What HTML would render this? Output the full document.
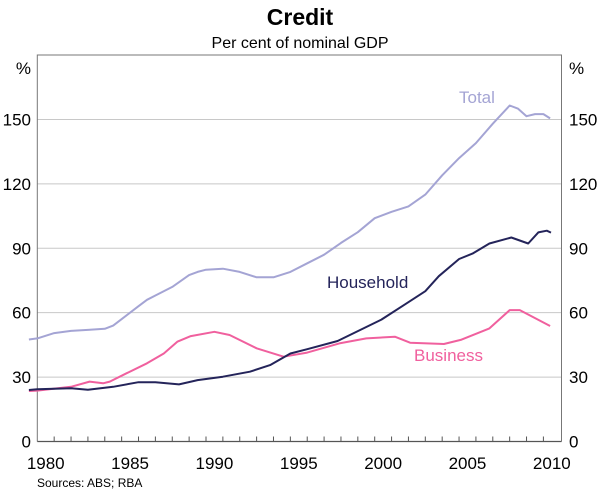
<!DOCTYPE html>
<html><head><meta charset="utf-8"><style>
body{margin:0;background:#fff;}
svg text{font-family:"Liberation Sans",sans-serif;}
</style></head><body>
<svg id="chart" width="600" height="495" viewBox="0 0 600 495" xmlns="http://www.w3.org/2000/svg">
<text x="300" y="25" text-anchor="middle" font-size="23" font-weight="bold">Credit</text>
<text x="300" y="48" text-anchor="middle" font-size="16">Per cent of nominal GDP</text>
<g id="grid"></g><g id="axes"></g><g id="series"></g>
<text x="459" y="103" font-size="17" fill="#a4a4d4">Total</text>
<text x="327" y="288" font-size="17" fill="#24245a">Household</text>
<text x="414" y="361" font-size="17" fill="#f0609e">Business</text>
<text x="37" y="487" font-size="12">Sources: ABS; RBA</text>
</svg>
<script>
const yTicks=[0,30,60,90,120,150];
const xLabels=[1980,1985,1990,1995,2000,2005,2010];
const totalYears=[1979.5,1980,1981,1982,1983,1984,1984.5,1985,1986,1986.5,1987,1988,1989,1989.5,1990,1991,1992,1993,1994,1995,1996,1997,1998,1999,2000,2001,2002,2003,2004,2005,2006,2007,2008,2008.5,2009,2009.5,2010,2010.4];
const totalVals=[47.5,48,50.5,51.5,52,52.5,54,57,63,66,68,72,77.5,79,80,80.5,79,76.5,76.5,79,83,87,92.5,97.5,104,107,109.5,115,124,132,139,148,156.5,155,151.5,152.5,152.5,150.5];
const houseYears=[1979.5,1980,1982,1983,1984.5,1986,1987,1988.4,1989.5,1991,1992.6,1993.8,1995,1996,1997.8,2000.4,2001.8,2003,2003.8,2005,2005.8,2006.8,2008.1,2009.1,2009.7,2010.2,2010.45];
const houseVals=[24,24.3,24.8,24.1,25.5,27.6,27.6,26.6,28.6,30.2,32.5,35.6,41,43,46.8,56.8,63.9,70,77,85,87.5,92.2,95,92.2,97.4,98.2,97.3];
const busYears=[1979.5,1980,1982,1983.1,1983.9,1984.3,1985.3,1986.5,1987.5,1988.3,1989.1,1990.5,1991.4,1993,1994.6,1996,1997.9,1999.5,2001.2,2002.1,2004.1,2005.1,2006.8,2008,2008.6,2010.4];
const busVals=[23.5,23.7,25.5,27.9,27.1,27.9,31.8,36.4,41,46.5,49.1,51.1,49.6,43.4,39.5,41.4,45.7,48,48.8,46,45.4,47.3,52.7,61.2,61.2,53.8];
const NS="http://www.w3.org/2000/svg";
const X0=37.3,PX=16.87,XR=561.5,YB=441.5,YT=55,PY=2.147;
function xs(t){return X0+(t-1980)*PX;}
function ys(v){return YB-v*PY;}
function mk(tag,attrs,parent){const e=document.createElementNS(NS,tag);for(const k in attrs)e.setAttribute(k,attrs[k]);parent.appendChild(e);return e;}
const grid=document.getElementById('grid'),axes=document.getElementById('axes'),ser=document.getElementById('series');
yTicks.forEach(v=>{
 if(v>0){const g=mk('line',{x1:X0,x2:XR,y1:ys(v),y2:ys(v),stroke:'#c8c8c8','stroke-width':1},grid);
 
 }
 const l=mk('text',{x:31,y:ys(v)+6,'text-anchor':'end','font-size':17},axes);l.textContent=v;
 
 
 const r=mk('text',{x:569,y:ys(v)+6,'font-size':17},axes);r.textContent=v;
 
 
});
[['y-left-unit',31,'end'],['y-right-unit',569,'start']].forEach(a=>{const t=mk('text',{x:a[1],y:74,'text-anchor':a[2],'font-size':17},axes);t.textContent='%';
 
 });
const fr=mk('path',{d:`M${X0},${YB}V${YT}H${XR}V${YB}`,fill:'none',stroke:'#777','stroke-width':1},axes);


const xa=mk('line',{x1:X0,x2:XR,y1:YB,y2:YB,stroke:'#555','stroke-width':1.2},axes);


for(let y=1981;y<=2010;y++){const t=mk('line',{x1:xs(y),x2:xs(y),y1:YB,y2:YB-5,stroke:'#555'},axes);
 
 }
xLabels.forEach(y=>{const t=mk('text',{x:xs(y+0.5),y:469,'text-anchor':'middle','font-size':17},axes);t.textContent=y;
 
 });
function line(xsArr,vs,color,name){const d=xsArr.map((t,i)=>(i?'L':'M')+xs(t).toFixed(1)+','+ys(vs[i]).toFixed(1)).join('');
 const p=mk('path',{d:d,fill:'none',stroke:color,'stroke-width':2,'stroke-linejoin':'round'},ser);
 
 }
line(totalYears,totalVals,'#a4a4d4','total-line');
line(busYears,busVals,'#f0609e','business-line');
line(houseYears,houseVals,'#24245a','household-line');
</script>
</body></html>
